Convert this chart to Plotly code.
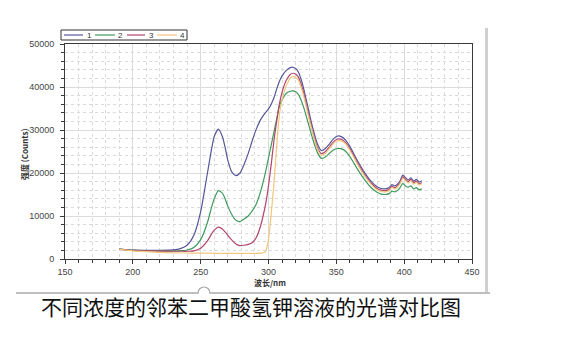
import plotly.graph_objects as go

# ---- data ----
wavelength = [190, 200, 210, 220, 230, 235, 240, 245, 250, 255,
              258, 260, 263, 266, 268, 270, 273, 276, 279, 282,
              285, 288, 291, 294, 296, 298, 300, 302, 304, 306,
              308, 310, 313, 316, 318, 320, 322, 324, 326, 328,
              330, 333, 336, 339, 342, 345, 348, 351, 354, 357,
              360, 365, 370, 375, 380, 383, 386, 389, 391, 393,
              395, 397, 399, 401, 403, 405, 407, 409, 411, 413]

series_names = ["1", "2", "3", "4"]
series_colors = ["#56569c", "#3f9a5e", "#b2456c", "#f0c77c"]

s1 = [2300, 2050, 2000, 2000, 2100, 2400, 3200, 5500, 11000, 20000,
      25500, 28500, 30200, 28500, 26000, 23000, 20200, 19400, 20000, 22000,
      24500, 27500, 30200, 32300, 33300, 34100, 34900, 36000, 37500, 39500,
      41300, 42600, 43800, 44500, 44600, 44300, 43500, 41800, 39500, 36800,
      34000, 30000, 26800, 25200, 25700, 26800, 28000, 28600, 28400, 27600,
      26200, 23200, 20500, 18300, 16800, 16400, 16300, 16600, 17300, 17000,
      17400, 18200, 19500, 18900, 18400, 18900, 18100, 18500, 17900, 18200]

s2 = [2300, 2050, 1950, 1900, 1900, 1950, 2100, 2700, 4500, 8500,
      12000, 14000, 15900, 15300, 14000, 12300, 10300, 9000, 8700, 9300,
      10000, 11200, 12800, 15500, 17800, 20500, 23500, 26500, 29500, 32500,
      35500, 37000, 38500, 39000, 39100, 38900, 38300, 37000, 35200, 33000,
      30800, 27500, 24800, 23400, 23700, 24600, 25400, 25700, 25600, 25000,
      23800, 21200, 18800, 16800, 15500, 15100, 15000, 15200, 15800, 15600,
      15900, 16600, 17600, 17000, 16700, 17000, 16300, 16600, 16100, 16300]

s3 = [2300, 2000, 1900, 1850, 1800, 1800, 1800, 1900, 2500, 4200,
      5800, 6700, 7400, 7000, 6300, 5500, 4400, 3500, 3100, 3200,
      3400, 3800, 5000, 7500, 10000, 13000, 17000, 22000, 27500, 32000,
      36000, 38800, 41500, 42900, 43200, 43000, 42300, 40700, 38500, 35800,
      33000, 29200, 26000, 24500, 25000, 26100, 27300, 27900, 27800, 27000,
      25600, 22700, 20000, 17900, 16400, 16000, 15900, 16200, 16900, 16600,
      17000, 17800, 19100, 18500, 18000, 18500, 17700, 18100, 17500, 17800]

s4 = [2300, 1900, 1700, 1550, 1450, 1400, 1400, 1350, 1350, 1350,
      1350, 1300, 1300, 1300, 1300, 1300, 1300, 1300, 1300, 1300,
      1300, 1300, 1300, 1350, 1450, 1900, 4500, 10500, 17500, 26000,
      33500, 37000, 40200, 42000, 42400, 42200, 41600, 40000, 37800, 35200,
      32500, 28800, 25600, 24100, 24600, 25700, 26900, 27500, 27400, 26700,
      25300, 22400, 19700, 17600, 16100, 15700, 15600, 15900, 16600, 16300,
      16700, 17500, 18800, 18200, 17700, 18200, 17400, 17800, 17200, 17500]

x_ticks = [150, 200, 250, 300, 350, 400, 450]
y_ticks = [0, 10000, 20000, 30000, 40000, 50000]
x_title = "波长/nm"
y_title = "强度 (Counts)"
caption = "不同浓度的邻苯二甲酸氢钾溶液的光谱对比图"

# ---- layout geometry (pixels) ----
W, H = 573, 354
L, R, T, B = 65, 472, 44, 259
pw, ph = R - L, B - T


def px(xp):
    return (xp - L) / pw


def py(yp):
    return (B - yp) / ph


fig = go.Figure()
for name, col, ys in zip(series_names, series_colors, [s1, s2, s3, s4]):
    fig.add_trace(go.Scatter(x=wavelength, y=ys, mode="lines", name=name,
                             line=dict(color=col, width=1.2, shape="spline", smoothing=0.6),
                             showlegend=False))

tick_font = dict(family="Liberation Sans, Arial, sans-serif", size=9, color="#444444")

fig.update_xaxes(range=[150, 450], tickvals=x_ticks, ticktext=[str(v) for v in x_ticks],
                 showline=True, linecolor="#3a3a3a", linewidth=1, mirror=True,
                 ticks="outside", ticklen=4, tickcolor="#3a3a3a",
                 showgrid=True, gridcolor="#dcdcdc", gridwidth=1, zeroline=False,
                 tickfont=tick_font,
                 minor=dict(dtick=10, ticks="outside", ticklen=3, tickcolor="#3a3a3a",
                            showgrid=True, gridcolor="#dadada", griddash="dot", gridwidth=1))
fig.update_yaxes(range=[0, 50000], tickvals=y_ticks, ticktext=[str(v) for v in y_ticks],
                 showline=True, linecolor="#3a3a3a", linewidth=1, mirror=True,
                 ticks="outside", ticklen=4, tickcolor="#3a3a3a",
                 showgrid=True, gridcolor="#dcdcdc", gridwidth=1, zeroline=False,
                 tickfont=tick_font, ticklabelstandoff=4,
                 minor=dict(dtick=2000, ticks="outside", ticklen=3, tickcolor="#3a3a3a",
                            showgrid=True, gridcolor="#dadada", griddash="dot", gridwidth=1))

shapes = []
annotations = []

# legend box (manual, above plot)
shapes.append(dict(type="rect", xref="paper", yref="paper",
                   x0=px(61), x1=px(187), y0=py(40), y1=py(30),
                   line=dict(color="#333333", width=1), fillcolor="white"))
seg = [(64, 83, 89), (95, 115, 120), (127, 145, 151), (157, 177, 182)]
for (a, b, t), name, col in zip(seg, series_names, series_colors):
    shapes.append(dict(type="line", xref="paper", yref="paper",
                       x0=px(a), x1=px(b), y0=py(35), y1=py(35),
                       line=dict(color=col, width=1.2)))
    annotations.append(dict(text=name, xref="paper", yref="paper", x=px(t), y=py(35),
                            showarrow=False, xanchor="center", yanchor="middle",
                            font=dict(family="Liberation Sans, Arial", size=8, color="#333333")))

# right gray bar and bottom separator line
shapes.append(dict(type="rect", xref="paper", yref="paper",
                   x0=px(485), x1=px(488), y0=py(292), y1=py(28),
                   line=dict(width=0), fillcolor="#cfcfcf"))
shapes.append(dict(type="line", xref="paper", yref="paper",
                   x0=px(16), x1=px(490), y0=py(293), y1=py(293),
                   line=dict(color="#a8a8a8", width=1.5)))
shapes.append(dict(type="circle", xref="paper", yref="paper",
                   x0=px(198), x1=px(210), y0=py(299), y1=py(287),
                   line=dict(color="#a8a8a8", width=1.2), fillcolor="white"))
shapes.append(dict(type="rect", xref="paper", yref="paper",
                   x0=px(196), x1=px(212), y0=py(300), y1=py(293.8),
                   line=dict(width=0), fillcolor="white"))

# axis titles
annotations.append(dict(text="<b>" + x_title + "</b>", xref="paper", yref="paper",
                        x=px(270), y=py(282), showarrow=False,
                        xanchor="center", yanchor="middle",
                        font=dict(family="Noto Sans CJK SC, Liberation Sans", size=8, color="#333333")))
annotations.append(dict(text="<b>" + y_title + "</b>", xref="paper", yref="paper",
                        x=px(24), y=py(154), showarrow=False, textangle=-90,
                        xanchor="center", yanchor="middle",
                        font=dict(family="Noto Sans CJK SC, Liberation Sans", size=8, color="#333333")))
# caption
annotations.append(dict(text=caption, xref="paper", yref="paper",
                        x=px(251), y=py(306), showarrow=False,
                        xanchor="center", yanchor="middle",
                        font=dict(family="Noto Sans CJK SC", size=21, color="#111111")))

fig.update_layout(width=W, height=H,
                  margin=dict(l=L, r=W - R, t=T, b=H - B),
                  paper_bgcolor="white", plot_bgcolor="white",
                  showlegend=False, shapes=shapes, annotations=annotations)

fig.write_html("out.html")
